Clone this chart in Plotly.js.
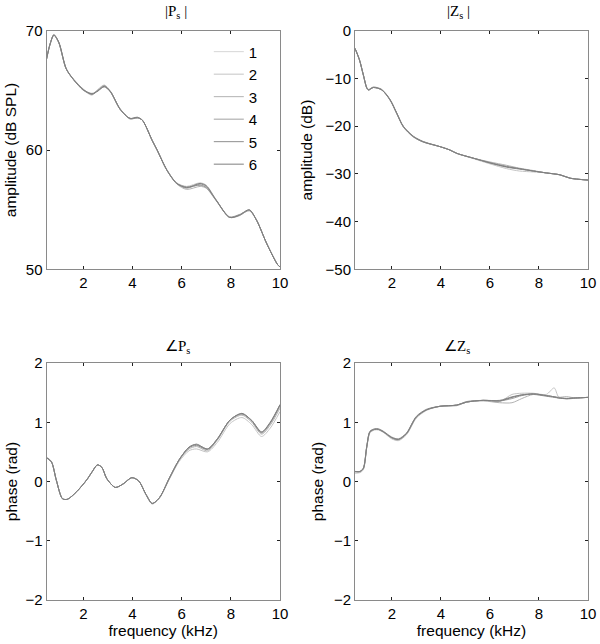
<!DOCTYPE html>
<html>
<head>
<meta charset="utf-8">
<script src="https://cdn.plot.ly/plotly-3.0.1.min.js"></script>
<style>html,body{margin:0;padding:0;background:#fff}#chart{width:600px;height:644px}</style>
</head>
<body>
<div id="chart"></div>
<script>
// ---------- data ----------
const seriesNames = ["1","2","3","4","5","6"];
const seriesColors = ["#d6d6d6","#c4c4c4","#b2b2b2","#a0a0a0","#8f8f8f","#7e7e7e"];

// |Ps| (dB SPL)
const psMagX = [0.5,0.65,0.8,1.0,1.3,1.6,2.0,2.35,2.6,2.85,3.1,3.5,3.9,4.2,4.4,4.8,5.0,5.4,5.8,6.2,6.75,7.0,7.4,7.95,8.35,8.75,9.05,9.45,9.9,10];
const psMag1 = [67.6,68.9,69.65,69.0,66.8,65.9,65.05,64.7,65.0,65.35,64.9,63.4,62.65,62.7,62.5,60.8,60.0,58.3,57.2,56.85,57.1,56.9,55.8,54.35,54.55,54.95,54.1,52.2,50.4,50.2];
const psMag2 = [67.6,68.9,69.65,69.0,66.8,65.9,65.05,64.6,65.1,65.45,64.95,63.4,62.65,62.7,62.5,60.8,60.0,58.3,57.25,56.95,57.25,57.05,55.85,54.35,54.55,54.95,54.1,52.2,50.4,50.2];
const psMag3 = [67.6,68.9,69.6,69.0,66.8,65.9,65.05,64.75,65.0,65.3,64.85,63.4,62.65,62.7,62.5,60.8,60.0,58.3,57.15,56.7,56.95,56.8,55.75,54.35,54.55,54.9,54.1,52.2,50.4,50.2];
const psMag4 = [67.7,68.95,69.65,69.0,66.8,65.95,65.1,64.65,65.05,65.4,64.9,63.45,62.65,62.7,62.5,60.8,60.0,58.35,57.2,56.8,57.15,56.95,55.8,54.4,54.6,54.95,54.1,52.2,50.4,50.2];
const psMag5 = [67.6,68.9,69.65,69.0,66.8,65.9,65.0,64.7,65.0,65.3,64.9,63.4,62.6,62.7,62.5,60.8,60.0,58.3,57.2,56.9,57.05,56.85,55.8,54.35,54.5,54.95,54.1,52.2,50.4,50.2];
const psMag6 = [67.6,68.9,69.65,69.05,66.85,65.9,65.05,64.7,64.95,65.35,64.9,63.4,62.65,62.75,62.5,60.8,60.0,58.3,57.2,56.85,57.2,57.0,55.8,54.35,54.55,55.0,54.1,52.2,50.4,50.2];

// |Zs| (dB)
const zsMagX = [0.5,0.68,0.84,0.98,1.05,1.25,1.59,1.93,2.2,2.47,2.88,3.28,3.97,4.37,4.65,5.32,6.0,6.68,7.2,7.77,8.3,8.86,9.27,10];
const zsMag1 = [-3.7,-6.1,-9.3,-12.0,-12.4,-11.9,-12.4,-14.5,-17.3,-20.1,-22.2,-23.3,-24.3,-25.0,-25.7,-26.7,-27.7,-28.5,-28.9,-29.4,-29.8,-30.2,-30.9,-31.3];
const zsMag2 = [-3.7,-6.1,-9.3,-12.0,-12.4,-11.9,-12.4,-14.5,-17.3,-20.1,-22.2,-23.3,-24.3,-25.0,-25.7,-26.8,-27.9,-28.9,-29.4,-29.6,-29.8,-30.2,-30.9,-31.3];
const zsMag3 = [-3.7,-6.2,-9.4,-12.1,-12.5,-11.9,-12.4,-14.6,-17.4,-20.2,-22.3,-23.3,-24.3,-25.0,-25.7,-26.7,-27.5,-28.2,-28.8,-29.3,-29.8,-30.2,-30.9,-31.3];
const zsMag4 = [-3.7,-6.1,-9.3,-12.0,-12.4,-11.9,-12.4,-14.5,-17.3,-20.1,-22.2,-23.3,-24.3,-25.0,-25.7,-26.7,-27.6,-28.4,-28.9,-29.4,-29.8,-30.2,-30.9,-31.3];
const zsMag5 = [-3.7,-6.0,-9.2,-11.9,-12.3,-11.8,-12.3,-14.4,-17.2,-20.0,-22.1,-23.2,-24.3,-25.0,-25.7,-26.7,-27.7,-28.6,-29.0,-29.4,-29.8,-30.2,-30.9,-31.3];
const zsMag6 = [-3.7,-6.1,-9.3,-12.0,-12.4,-11.9,-12.4,-14.5,-17.3,-20.1,-22.2,-23.3,-24.3,-25.0,-25.7,-26.7,-27.7,-28.5,-28.9,-29.4,-29.8,-30.2,-30.9,-31.3];

// angle Ps (rad)
const psPhX = [0.5,0.7,0.9,1.15,1.35,1.73,2.14,2.35,2.57,2.75,2.95,3.3,3.62,3.97,4.25,4.55,4.8,5.1,5.5,5.9,6.3,6.6,7.05,7.45,7.97,8.45,8.85,9.25,9.6,10];
const psPh1 = [0.4,0.33,0.02,-0.29,-0.3,-0.17,0.03,0.16,0.28,0.24,0.05,-0.1,-0.04,0.065,0.01,-0.22,-0.37,-0.27,0.06,0.37,0.58,0.63,0.55,0.72,1.04,1.15,1.03,0.83,0.99,1.3];
const psPh2 = [0.4,0.33,0.02,-0.29,-0.3,-0.17,0.03,0.16,0.28,0.24,0.05,-0.1,-0.04,0.065,0.01,-0.23,-0.38,-0.28,0.04,0.34,0.52,0.55,0.5,0.66,0.98,1.08,0.96,0.76,0.9,1.18];
const psPh3 = [0.4,0.33,0.02,-0.29,-0.3,-0.17,0.03,0.16,0.28,0.24,0.05,-0.1,-0.04,0.065,0.01,-0.22,-0.37,-0.27,0.05,0.36,0.55,0.59,0.52,0.7,1.02,1.12,1.0,0.8,0.95,1.24];
const psPh4 = [0.4,0.33,0.02,-0.29,-0.3,-0.17,0.03,0.16,0.28,0.24,0.05,-0.1,-0.04,0.065,0.01,-0.22,-0.37,-0.27,0.06,0.37,0.58,0.62,0.55,0.72,1.04,1.14,1.03,0.83,0.99,1.29];
const psPh5 = [0.41,0.34,0.03,-0.29,-0.3,-0.17,0.03,0.16,0.28,0.24,0.05,-0.1,-0.04,0.065,0.01,-0.22,-0.37,-0.27,0.06,0.37,0.57,0.61,0.54,0.71,1.04,1.14,1.02,0.82,0.98,1.28];
const psPh6 = [0.4,0.33,0.02,-0.29,-0.3,-0.17,0.03,0.16,0.28,0.24,0.05,-0.1,-0.04,0.065,0.01,-0.22,-0.37,-0.27,0.06,0.37,0.58,0.63,0.55,0.72,1.04,1.15,1.03,0.84,1.0,1.3];

// angle Zs (rad)
const zsPhX = [0.5,0.7,0.84,0.98,1.11,1.3,1.45,1.65,2.0,2.27,2.6,3.0,3.42,3.97,4.65,5.05,5.73,6.4,6.9,7.3,7.77,8.3,8.62,8.8,9.13,9.5,10];
const zsPh1 = [0.17,0.17,0.22,0.59,0.84,0.88,0.88,0.84,0.74,0.71,0.81,1.09,1.21,1.27,1.29,1.34,1.37,1.36,1.42,1.47,1.48,1.45,1.43,1.41,1.4,1.41,1.42];
const zsPh2 = [0.14,0.15,0.2,0.57,0.82,0.87,0.87,0.83,0.72,0.69,0.79,1.07,1.2,1.27,1.29,1.34,1.37,1.35,1.47,1.49,1.49,1.47,1.58,1.43,1.39,1.41,1.42];
const zsPh3 = [0.16,0.16,0.21,0.58,0.83,0.88,0.88,0.84,0.73,0.7,0.8,1.08,1.21,1.27,1.28,1.34,1.36,1.33,1.33,1.4,1.47,1.45,1.43,1.42,1.4,1.41,1.42];
const zsPh4 = [0.17,0.17,0.22,0.59,0.84,0.88,0.88,0.84,0.74,0.71,0.81,1.09,1.21,1.27,1.29,1.34,1.37,1.36,1.4,1.45,1.48,1.45,1.43,1.42,1.43,1.41,1.42];
const zsPh5 = [0.17,0.17,0.23,0.6,0.85,0.89,0.89,0.85,0.75,0.72,0.82,1.1,1.22,1.27,1.29,1.35,1.37,1.37,1.43,1.46,1.47,1.44,1.42,1.41,1.4,1.41,1.42];
const zsPh6 = [0.17,0.17,0.22,0.59,0.84,0.88,0.88,0.84,0.74,0.71,0.81,1.09,1.21,1.27,1.29,1.34,1.37,1.36,1.42,1.46,1.48,1.45,1.43,1.41,1.4,1.41,1.42];

const xTicks = [2,4,6,8,10];

// ---------- traces ----------
const panels = [
  {x: psMagX, ys: [psMag1,psMag2,psMag3,psMag4,psMag5,psMag6], xa: "x",  ya: "y",  legend: true},
  {x: zsMagX, ys: [zsMag1,zsMag2,zsMag3,zsMag4,zsMag5,zsMag6], xa: "x2", ya: "y2", legend: false},
  {x: psPhX,  ys: [psPh1,psPh2,psPh3,psPh4,psPh5,psPh6],       xa: "x3", ya: "y3", legend: false},
  {x: zsPhX,  ys: [zsPh1,zsPh2,zsPh3,zsPh4,zsPh5,zsPh6],       xa: "x4", ya: "y4", legend: false}
];
const traces = [];
panels.forEach(p => {
  p.ys.forEach((y, i) => {
    traces.push({
      type: "scatter", mode: "lines", x: p.x, y: y,
      name: seriesNames[i], xaxis: p.xa, yaxis: p.ya,
      showlegend: p.legend,
      line: {color: seriesColors[i], width: 1, shape: "spline", smoothing: 0.8}
    });
  });
});

// ---------- layout ----------
const FONT = "'Liberation Sans', Arial, sans-serif";
const SERIF = "'Liberation Serif', 'Times New Roman', serif";
function ax(extra) {
  return Object.assign({
    showline: true, linecolor: "#8a8a8a", linewidth: 1, mirror: "allticks",
    ticks: "inside", ticklen: 3, tickwidth: 1, tickcolor: "#222",
    showgrid: false, zeroline: false,
    tickfont: {family: FONT, size: 15, color: "#000"}
  }, extra);
}
const xL = [0.0775, 0.4667], xR = [0.5917, 0.98];
const yT = [0.5818, 0.9523], yB = [0.0683, 0.4363];
const ttl = (t, s) => ({text: t, standoff: s, font: {family: FONT, size: 15.5, color: "#000"}});
const headFont = {family: SERIF, size: 15, color: "#000"};

const layout = {
  width: 600, height: 644,
  margin: {l: 0, r: 0, t: 0, b: 0},
  paper_bgcolor: "#fff", plot_bgcolor: "#fff",
  font: {family: FONT, size: 14, color: "#000"},
  showlegend: true,
  legend: {x: 0.348, y: 0.945, xanchor: "left", yanchor: "top",
           bgcolor: "rgba(0,0,0,0)", borderwidth: 0,
           font: {family: FONT, size: 15, color: "#000"}, tracegroupgap: 0},
  xaxis:  ax({domain: xL, anchor: "y",  range: [0.5, 10], tickvals: xTicks}),
  yaxis:  ax({domain: yT, anchor: "x",  range: [50, 70], tickvals: [50,60,70], title: ttl("amplitude (dB SPL)", 5)}),
  xaxis2: ax({domain: xR, anchor: "y2", range: [0.5, 10], tickvals: xTicks}),
  yaxis2: ax({domain: yT, anchor: "x2", range: [-50, 0], tickvals: [-50,-40,-30,-20,-10,0], title: ttl("amplitude (dB)", 9)}),
  xaxis3: ax({domain: xL, anchor: "y3", range: [0.5, 10], tickvals: xTicks, title: ttl("frequency (kHz)", 4)}),
  yaxis3: ax({domain: yB, anchor: "x3", range: [-2, 2], tickvals: [-2,-1,0,1,2], title: ttl("phase (rad)", 3)}),
  xaxis4: ax({domain: xR, anchor: "y4", range: [0.5, 10], tickvals: xTicks, title: ttl("frequency (kHz)", 4)}),
  yaxis4: ax({domain: yB, anchor: "x4", range: [-2, 2], tickvals: [-2,-1,0,1,2], title: ttl("phase (rad)", 6)}),
  annotations: [
    {text: "|P<sub>s</sub> |", xref: "paper", yref: "paper", x: (xL[0]+xL[1])/2, y: 1 - 12/644, yanchor: "middle", showarrow: false, font: headFont},
    {text: "|Z<sub>s</sub> |", xref: "paper", yref: "paper", x: (xR[0]+xR[1])/2, y: 1 - 12/644, yanchor: "middle", showarrow: false, font: headFont},
    {text: "∠P<sub>s</sub>", xref: "paper", yref: "paper", x: (xL[0]+xL[1])/2, y: 1 - 347/644, yanchor: "middle", showarrow: false, font: headFont},
    {text: "∠Z<sub>s</sub>", xref: "paper", yref: "paper", x: (xR[0]+xR[1])/2, y: 1 - 347/644, yanchor: "middle", showarrow: false, font: headFont}
  ]
};

Plotly.newPlot("chart", traces, layout, {staticPlot: true, displayModeBar: false});
</script>
</body>
</html>
